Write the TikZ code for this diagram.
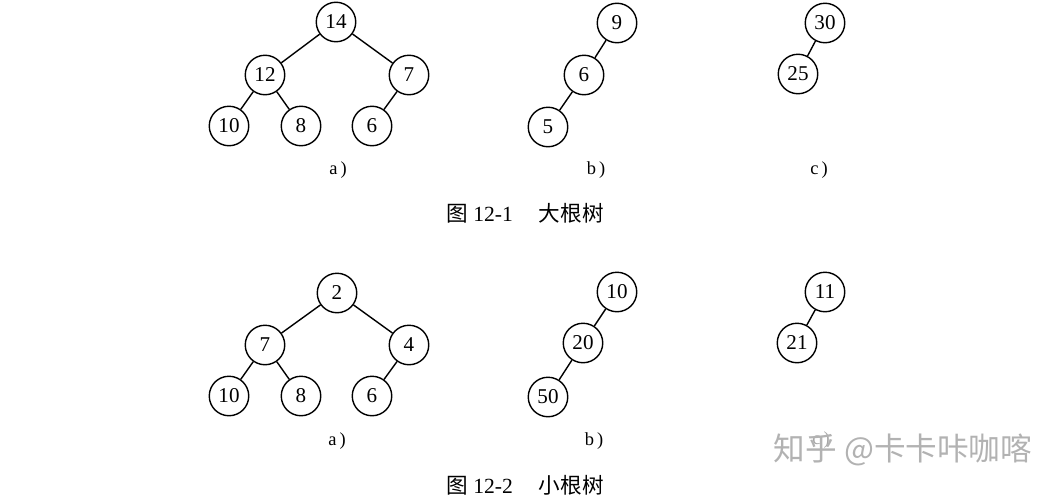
\documentclass[tikz,border=0pt]{standalone}
\usepackage{fontspec}
\setmainfont{Liberation Serif}
\newfontfamily\cjk{Noto Sans CJK SC}
\usetikzlibrary{positioning}

\begin{document}
\begin{tikzpicture}[x=0.02cm,y=-0.02cm,
    key/.style={draw,circle,minimum size=0.79cm,inner sep=0pt,line width=0.8pt,font=\fontsize{12}{14}\selectfont},
    sublabel/.style={font=\fontsize{10.5}{12}\selectfont},
    figcap/.style={font=\fontsize{12.3}{14}\selectfont},
    every path/.style={line width=0.8pt}]
			\useasboundingbox (0,0) rectangle (1059,497);
			% big root trees
			\node [key] (A1) at (336,22) {14};
			\node [key] (A2) at (265,75) {12};
			\node [key] (A3) at (409,75) {7};
			\node [key] (A4) at (229,126) {10};
			\node [key] (A5) at (301,126) {8};
			\node [key] (A6) at (372,126) {6};
			\node [key] (B1) at (617,23) {9};
			\node [key] (B2) at (584,75) {6};
			\node [key] (B3) at (548,127) {5};
			\node [key] (C1) at (825,23) {30};
			\node [key] (C2) at (798,74) {25};
			\draw (A1) -- (A2);
			\draw (A1) -- (A3);
			\draw (A2) -- (A4);
			\draw (A2) -- (A5);
			\draw (A3) -- (A6);
			\draw (B1) -- (B2);
			\draw (B2) -- (B3);
			\draw (C1) -- (C2);
			\node [sublabel] (la) at (338,170) {a\,)};
			\node [sublabel] (lb) at (596,170) {b\,)};
			\node [sublabel] (lc) at (819,170) {c\,)};
			\node [figcap] (cap1) at (525,213) {{\cjk 图} 12-1\hspace{1.2em}{\cjk 大根树}};
			% small root trees
			\node [key] (D1) at (337,293) {2};
			\node [key] (D2) at (265,345) {7};
			\node [key] (D3) at (409,345) {4};
			\node [key] (D4) at (229,396) {10};
			\node [key] (D5) at (301,396) {8};
			\node [key] (D6) at (372,396) {6};
			\node [key] (E1) at (617,292) {10};
			\node [key] (E2) at (583,343) {20};
			\node [key] (E3) at (548,397) {50};
			\node [key] (F1) at (825,292) {11};
			\node [key] (F2) at (797,343) {21};
			\draw (D1) -- (D2);
			\draw (D1) -- (D3);
			\draw (D2) -- (D4);
			\draw (D2) -- (D5);
			\draw (D3) -- (D6);
			\draw (E1) -- (E2);
			\draw (E2) -- (E3);
			\draw (F1) -- (F2);
			\node [sublabel] (ld) at (337,441) {a\,)};
			\node [sublabel] (le) at (594,441) {b\,)};
			\node [sublabel,black!35] (lf) at (821,440) {c\,)};
			\node [figcap] (cap2) at (525,485) {{\cjk 图} 12-2\hspace{1.2em}{\cjk 小根树}};
			\node [text=black!30,font=\cjk\fontsize{18}{20}\selectfont] (mark) at (903,450) {知乎 @卡卡咔咖喀};
		\end{tikzpicture}
\end{document}
